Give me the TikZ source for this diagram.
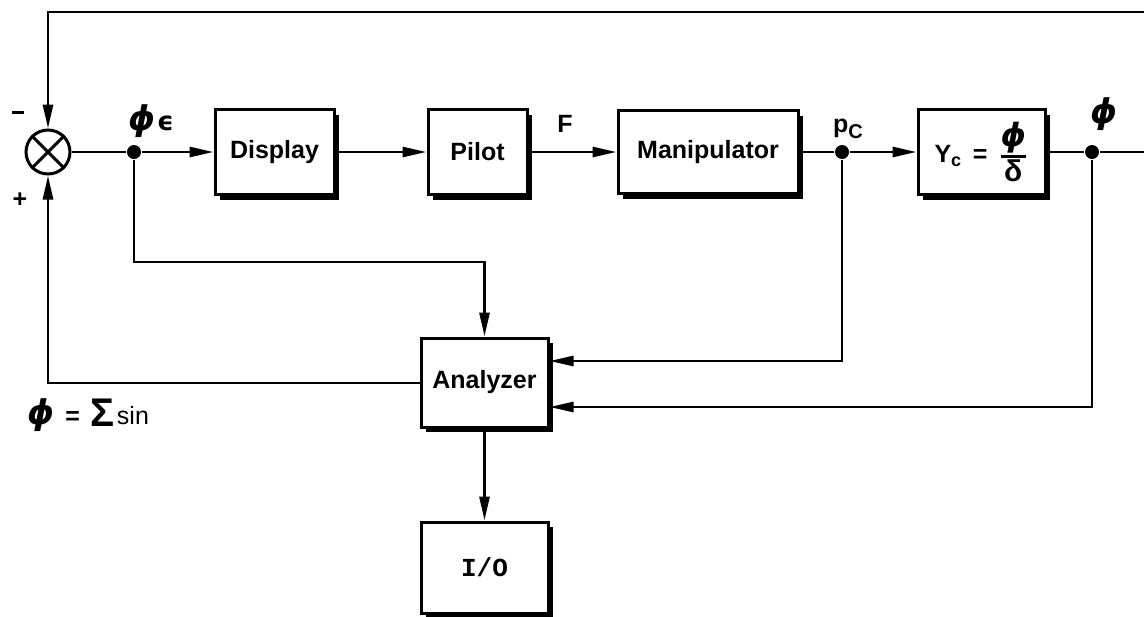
\documentclass[tikz,border=0pt]{standalone}
\usepackage{fontspec}
\setmainfont{Liberation Sans}
\setmonofont{Liberation Mono}
\newfontfamily\dejavu{DejaVu Sans}
\usetikzlibrary{arrows.meta,shadows}
\newcommand{\bphi}[1]{{\dejavu\fontsize{#1}{#1}\selectfont\bfseries\itshape ϕ}}
\begin{document}
\begin{tikzpicture}[x=0.5pt,y=-0.5pt,
  line width=1.4pt,
  font=\fontsize{12.5}{14}\selectfont\bfseries,
  box/.style={draw, fill=white, line width=1.5pt, inner sep=0pt,
    general shadow={fill=black, shadow xshift=2.5pt, shadow yshift=-2.5pt}},
  arr/.style={-{Triangle[length=12pt,width=5pt]}},
  dot/.style={circle, fill=black, inner sep=0pt, minimum size=7pt},
  lbl/.style={inner sep=0pt},
]
\useasboundingbox (0,0) rectangle (1144,616);

% summing junction
\node[circle, draw, line width=1.5pt, minimum size=22pt, inner sep=0pt] (sum) at (48,152) {};
\draw[line width=1.5pt] (sum.north east) -- (sum.south west);
\draw[line width=1.5pt] (sum.north west) -- (sum.south east);

% boxes
\node[box, minimum width=59.5pt, minimum height=42.5pt] (disp) at (274.5,152) {Display};
\node[box, minimum width=49.5pt, minimum height=42.5pt] (pilot) at (477.5,152) {Pilot};
\node[box, minimum width=90pt, minimum height=41.5pt] (manip) at (708,152) {Manipulator};
\node[box, minimum width=63.5pt, minimum height=42.5pt] (yc) at (981.5,152)
  {$\mbox{Y}_{\mbox{\fontsize{9}{9}\selectfont c}}\;\,\mbox{=}\;\,{\mbox{\bphi{16}}\above 1.2pt\mbox{\fontsize{15}{15}\selectfont δ}}$};
\node[box, minimum width=63.5pt, minimum height=44.5pt] (an) at (484.5,382.5) {Analyzer};
\node[box, minimum width=63.5pt, minimum height=45.5pt] (io) at (484.5,567.5) {\ttfamily\fontsize{13}{14}\selectfont I/O};

% junction dots
\node[dot] (dphie) at (134,152) {};
\node[dot] (dpc) at (842,152) {};
\node[dot] (dphi) at (1092,152) {};

% bend points
\coordinate (rt) at (1144,12);
\coordinate (k0) at (48,12);
\coordinate (re) at (1144,152);
\coordinate (k1) at (134,262);
\coordinate (k2) at (842,361);
\coordinate (k3) at (1092,407);
\coordinate (k4) at (48,383);

% connectors
\draw[arr] (rt) -- (k0) -- (sum.north);
\draw (sum.east) -- (dphie);
\draw[arr] (dphie) -- (disp.west);
\draw[arr] (disp.east) -- (pilot.west);
\draw[arr] (pilot.east) -- (manip.west);
\draw (manip.east) -- (dpc);
\draw[arr] (dpc) -- (yc.west);
\draw (yc.east) -- (dphi) -- (re);
\draw[arr] (dphie) -- (k1) -| (an.north);
\draw[arr] (dpc) -- (k2) -- (an.east |- k2);
\draw[arr] (dphi) -- (k3) -- (an.east |- k3);
\draw[arr] (an.west |- k4) -- (k4) -- (sum.south);
\draw[arr] (an.south) -- (io.north);

% labels
\node[lbl] (lminus) at (18,112) {\rule{6pt}{1.5pt}};
\node[lbl] (lplus) at (20,200) {+};
\node[lbl] (lphie) at (151,121) {\bphi{17}\hspace{1pt}{\dejavu\fontsize{13}{13}\selectfont\bfseries ϵ}};
\node[lbl] (lF) at (565,124) {F};
\node[lbl] (lpc) at (848,129) {p\raisebox{-3pt}{\fontsize{10}{10}\selectfont C}};
\node[lbl] (lphi) at (1104,114) {\bphi{17}};
\node[lbl] (lsum) at (88,415) {\bphi{17}\ \,=\,\ \raisebox{-1pt}{\fontsize{20}{20}\selectfont Σ}\hspace{1pt}\mdseries sin};
\end{tikzpicture}
\end{document}
